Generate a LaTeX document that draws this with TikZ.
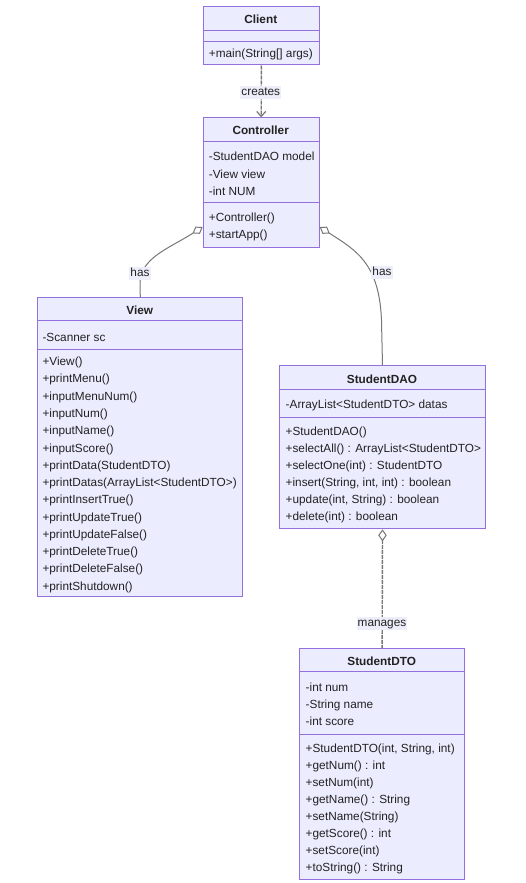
\documentclass[tikz,border=0pt]{standalone}
\usepackage{fontspec}
\setmainfont{Liberation Sans}
\usetikzlibrary{arrows.meta}
\definecolor{boxfill}{HTML}{ECECFF}
\definecolor{boxline}{HTML}{9370DB}
\definecolor{edgec}{HTML}{777777}
\definecolor{lblbg}{HTML}{EEEEFB}
\definecolor{txtc}{HTML}{222222}
\tikzset{
  classbox/.style={draw=boxline, fill=boxfill, line width=1pt, rectangle, inner sep=0pt, anchor=north west},
  divider/.style={draw=boxline, line width=1pt},
  member/.style={font=\fontsize{11.8}{14}\selectfont, text=txtc, anchor=west, inner sep=0pt, text height=10pt, text depth=0pt},
  ctitle/.style={member, anchor=center, font=\fontsize{11.8}{14}\selectfont\bfseries},
  elabel/.style={fill=lblbg, font=\fontsize{11.8}{14}\selectfont, text=txtc, inner sep=1pt, text height=8.5pt, text depth=2.5pt},
  edgeline/.style={draw=edgec, line width=1pt},
  dotline/.style={draw=edgec, line width=1.4pt, dash pattern=on 4pt off 1pt}
}
\begin{document}
\begin{tikzpicture}[x=1pt,y=-1pt]
\useasboundingbox (0,0) rectangle (525,883);
\fill[white] (0,0) rectangle (525,883);

% ---------- Client ----------
\node[classbox, minimum width=116.3pt, minimum height=58.5pt] (client) at (202.7,6) {};
\draw[divider] (202.7,30.5) -- (319,30.5);
\draw[divider] (202.7,42) -- (319,42);
\node[ctitle] (clientT) at (260.8,18.3) {Client};
\node[member] (clientM1) at (208.7,53) {+main(String[] args)};

% ---------- Controller ----------
\node[classbox, minimum width=116pt, minimum height=129.4pt] (ctrl) at (202.7,117.3) {};
\draw[divider] (202.7,141.7) -- (318.7,141.7);
\draw[divider] (202.7,202.7) -- (318.7,202.7);
\node[ctitle] (ctrlT) at (260.7,129.5) {Controller};
\foreach \t [count=\i from 0] in {-StudentDAO model,-View view,-int NUM}
  \node[member] (ctrlA\i) at (208.7,155.7+\i*17.3) {\t};
\foreach \t [count=\i from 0] in {+Controller(),+startApp()}
  \node[member] (ctrlM\i) at (208.7,216.7+\i*17) {\t};

% ---------- View ----------
\node[classbox, minimum width=205pt, minimum height=298.7pt] (view) at (37.3,297.3) {};
\draw[divider] (37.3,320.7) -- (242.3,320.7);
\draw[divider] (37.3,349.3) -- (242.3,349.3);
\node[ctitle] (viewT) at (139.8,309.5) {View};
\node[member] (viewA0) at (42.3,336) {-Scanner sc};
\foreach \t [count=\i from 0] in {+View(),+printMenu(),+inputMenuNum(),+inputNum(),+inputName(),+inputScore(),+printData(StudentDTO),+printDatas(ArrayList<StudentDTO>),+printInsertTrue(),+printUpdateTrue(),+printUpdateFalse(),+printDeleteTrue(),+printDeleteFalse(),+printShutdown()}
  \node[member] (viewM\i) at (42.3,360.7+\i*17.27) {\t};

% ---------- StudentDAO ----------
\node[classbox, minimum width=206pt, minimum height=163.3pt] (dao) at (279,365) {};
\draw[divider] (279,389) -- (485,389);
\draw[divider] (279,417.3) -- (485,417.3);
\node[ctitle] (daoT) at (382,378) {StudentDAO};
\node[member] (daoA0) at (285.5,403.5) {-ArrayList<StudentDTO> datas};
\foreach \t [count=\i from 0] in {+StudentDAO(),+selectAll() : ArrayList<StudentDTO>,+selectOne(int) : StudentDTO,{+insert(String, int, int) : boolean},{+update(int, String) : boolean},+delete(int) : boolean}
  \node[member] (daoM\i) at (285.5,430+\i*17.14) {\t};

% ---------- StudentDTO ----------
\node[classbox, minimum width=164.7pt, minimum height=231pt] (dto) at (299.3,648.3) {};
\draw[divider] (299.3,671.7) -- (464,671.7);
\draw[divider] (299.3,734) -- (464,734);
\node[ctitle] (dtoT) at (381.7,660.5) {StudentDTO};
\foreach \t [count=\i from 0] in {-int num,-String name,-int score}
  \node[member] (dtoA\i) at (305.5,686.7+\i*17) {\t};
\foreach \t [count=\i from 0] in {{+StudentDTO(int, String, int)},+getNum() : int,+setNum(int),+getName() : String,+setName(String),+getScore() : int,+setScore(int),+toString() : String}
  \node[member] (dtoM\i) at (305.5,747.3+\i*17.06) {\t};

% ---------- Connectors ----------
\draw[dotline, -{Straight Barb[length=5pt, width=9pt, line width=1.2pt]}] (client.south) -- (ctrl.north);
\draw[edgeline, {Diamond[fill=white, length=12pt, width=8.5pt, line width=1pt]}-] ([yshift=20.7pt]ctrl.south west) .. controls (168,249) and (140,258) .. (140,284) -- (view.north);
\draw[edgeline, {Diamond[fill=white, length=12pt, width=8.5pt, line width=1pt]}-] ([yshift=20.7pt]ctrl.south east) .. controls (357,251) and (381.7,264) .. (381.7,330) -- (dao.north);
\draw[dotline, {Diamond[fill=white, length=12pt, width=8.5pt, line width=1pt]}-] (dao.south) -- (dto.north);

% ---------- Labels ----------
\node[elabel] (lcreates) at (260.8,92) {creates};
\node[elabel] (lhas1) at (140,273) {has};
\node[elabel] (lhas2) at (382,272.7) {has};
\node[elabel] (lmanages) at (382,623.3) {manages};
\end{tikzpicture}
\end{document}
